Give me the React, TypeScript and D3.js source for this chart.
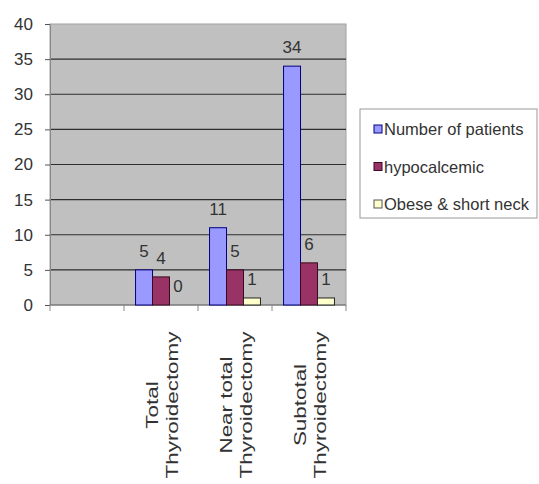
import React, { useEffect, useRef } from "react";
import * as d3 from "d3";

// categories (first slot is empty in the original chart)
const categories = ["", "Total Thyroidectomy", "Near total Thyroidectomy", "Subtotal Thyroidectomy"];
const categoryLines = [[], ["Total", "Thyroidectomy"], ["Near total", "Thyroidectomy"], ["Subtotal", "Thyroidectomy"]];
const seriesNames = ["Number of patients", "hypocalcemic", "Obese & short neck"];
const patients = [null, 5, 11, 34];
const hypocalcemic = [null, 4, 5, 6];
const obeseShortNeck = [null, 0, 1, 1];
const yTicks = [0, 5, 10, 15, 20, 25, 30, 35, 40];

const fills = ["#9999FF", "#993366", "#FFFFCC"];
const strokes = ["#000080", "#3a0a20", "#222222"];

export default function App() {
    const svgRef = useRef<SVGSVGElement | null>(null);

    useEffect(() => {
        if (!svgRef.current) return;
        const svg = d3.select(svgRef.current);
        svg.selectAll("*").remove();

        const left = 50, right = 346, top = 24, bottom = 305;
        const font = "'Liberation Sans', Arial, sans-serif";

        const x = d3.scaleBand<string>().domain(categories).range([left, right]).padding(0);
        const xs = d3.scaleBand<string>().domain(seriesNames).range([0, x.bandwidth()])
            .paddingInner(0).paddingOuter(0.68);
        const y = d3.scaleLinear().domain([0, 40]).range([bottom, top]);

        // plot background
        svg.append("rect")
            .attr("x", left).attr("y", top)
            .attr("width", right - left).attr("height", bottom - top)
            .attr("fill", "#C0C0C0")
            .attr("stroke", "#a0a0a0");

        // gridlines
        svg.append("g")
            .selectAll("line")
            .data(yTicks.filter((t) => t > 0 && t < 40))
            .enter()
            .append("line")
            .attr("x1", left).attr("x2", right)
            .attr("y1", (d) => y(d)).attr("y2", (d) => y(d))
            .attr("stroke", "#2e2e2e")
            .attr("stroke-width", 1.2);

        // y axis
        const yAxis = svg.append("g")
            .attr("transform", `translate(${left},0)`)
            .call(d3.axisLeft(y).tickValues(yTicks).tickSize(5).tickSizeOuter(0).tickPadding(12));
        yAxis.select(".domain").attr("stroke", "#888");
        yAxis.selectAll(".tick line").attr("stroke", "#555");
        yAxis.selectAll("text")
            .attr("font-family", font)
            .attr("font-size", 17)
            .attr("fill", "#333");

        // x axis line + ticks at band boundaries
        svg.append("line")
            .attr("x1", left).attr("x2", right)
            .attr("y1", bottom).attr("y2", bottom)
            .attr("stroke", "#666");
        const bounds = categories.map((c) => x(c) ?? 0).concat([right]);
        svg.append("g")
            .selectAll("line")
            .data(bounds)
            .enter()
            .append("line")
            .attr("x1", (d) => d).attr("x2", (d) => d)
            .attr("y1", bottom).attr("y2", bottom + 6)
            .attr("stroke", "#888");

        // bars
        const seriesValues = [patients, hypocalcemic, obeseShortNeck];
        seriesValues.forEach((vals, si) => {
            const g = svg.append("g");
            vals.forEach((v, ci) => {
                if (v === null) return;
                const bx = (x(categories[ci]) ?? 0) + (xs(seriesNames[si]) ?? 0);
                const bw = xs.bandwidth();
                const h = Math.max(y(0) - y(v), v === 0 ? 0 : 3);
                g.append("rect")
                    .attr("x", bx).attr("y", y(0) - h)
                    .attr("width", bw).attr("height", h)
                    .attr("fill", fills[si])
                    .attr("stroke", strokes[si])
                    .attr("stroke-width", 1);
                g.append("text")
                    .attr("x", bx + bw / 2)
                    .attr("y", y(v) - 13)
                    .attr("text-anchor", "middle")
                    .attr("font-family", font)
                    .attr("font-size", 17)
                    .attr("fill", "#333")
                    .text(String(v));
            });
        });

        // category labels, rotated
        categoryLines.forEach((lines, ci) => {
            const cx = (x(categories[ci]) ?? 0) + x.bandwidth() / 2;
            lines.forEach((line, li) => {
                const lx = cx - 3 + li * 20;
                svg.append("text")
                    .attr("transform", `translate(${lx},405) rotate(-90) scale(1.4,1)`)
                    .attr("text-anchor", "middle")
                    .attr("font-family", font)
                    .attr("font-size", 16)
                    .attr("fill", "#333")
                    .text(line);
            });
        });

        // legend
        const lg = svg.append("g");
        lg.append("rect")
            .attr("x", 360).attr("y", 109)
            .attr("width", 177).attr("height", 109)
            .attr("fill", "#fff")
            .attr("stroke", "#999");
        seriesNames.forEach((name, i) => {
            const ly = 129 + i * 37.5;
            lg.append("rect")
                .attr("x", 374).attr("y", ly - 4)
                .attr("width", 8).attr("height", 8)
                .attr("fill", fills[i])
                .attr("stroke", i === 2 ? "#555" : strokes[i]);
            lg.append("text")
                .attr("x", 384).attr("y", ly + 6)
                .attr("font-family", font)
                .attr("font-size", 16.5)
                .attr("fill", "#333")
                .text(name);
        });
    }, []);

    return (
        <svg
            ref={svgRef}
            width={539}
            height={484}
            style={{ position: "absolute", left: 0, top: 0, background: "#fff" }}
        />
    );
}
